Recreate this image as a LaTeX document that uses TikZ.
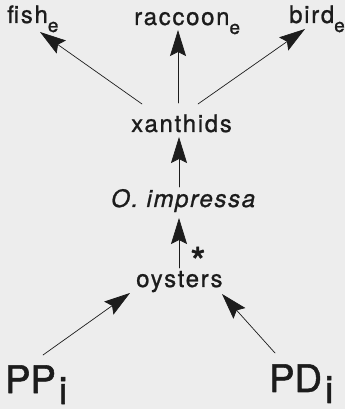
\documentclass[tikz,border=0pt]{standalone}
\usepackage{fontspec}
\setmainfont{TeX Gyre Heros}
\newfontfamily\labfont[LetterSpace=7,FakeBold=1]{TeX Gyre Heros}
\newfontfamily\bigfont[FakeBold=1.4]{TeX Gyre Heros}
\usepackage{tikz}
\usetikzlibrary{arrows.meta}
\definecolor{paper}{RGB}{237,237,237}
\definecolor{ink}{RGB}{28,28,28}
\newcommand{\lowsub}[1]{\raisebox{-9pt}{\fontsize{19}{19}\selectfont #1}}
\newcommand{\lowbig}[1]{\kern3pt\raisebox{-11pt}{#1}}

\begin{document}
\begin{tikzpicture}[x=1pt,y=1pt,line cap=round,line join=round,
  >={Stealth[length=26pt,width=16pt,inset=4pt]},
  lab/.style={anchor=base west,inner sep=0pt,text=ink,font=\labfont\fontsize{24}{24}\selectfont},
  big/.style={anchor=base west,inner sep=0pt,text=ink,font=\bigfont\fontsize{38}{38}\selectfont},
  link/.style={->,draw=ink,line width=0.7pt}]
\fill[paper] (0,0) rectangle (345,409);
\useasboundingbox (0,0) rectangle (345,409);
% top row
\node[lab] (fish) at (7,386) {fish\lowsub{e}};
\node[lab] (raccoon) at (134,384) {raccoon\lowsub{e}};
\node[lab] (bird) at (289,386) {bird\lowsub{e}};
% chain
\node[lab] (xanth) at (131,277) {xanthids};
\node[lab,font=\labfont\itshape\fontsize{24}{24}\selectfont] (impressa) at (111,202) {O. impressa};
\node[lab] (oysters) at (136,122) {oysters};
\node[anchor=north,inner sep=0pt,text=ink,font=\bigfont\fontsize{40}{40}\selectfont] (star) at (198,162)
  {\raisebox{-0.43em}[0.29em][0pt]{*}};
% inputs
\node[big] (pp) at (5,16) {PP\lowbig{i}};
\node[big] (pd) at (269,17) {PD\lowbig{i}};
% arrows
\draw[link] ([xshift=11pt,yshift=28pt]xanth.base west) -- ([xshift=33pt,yshift=-9pt]fish.base west);
\draw[link] ([xshift=47pt,yshift=29pt]xanth.base west) -- ([xshift=44pt,yshift=-5pt]raccoon.base west);
\draw[link] ([xshift=67pt,yshift=28pt]xanth.base west) -- ([xshift=16pt,yshift=-6pt]bird.base west);
\draw[link] ([xshift=68pt,yshift=20pt]impressa.base west) -- ([xshift=48pt,yshift=-5pt]xanth.base west);
\draw[link] ([xshift=43pt,yshift=19pt]oysters.base west) -- ([xshift=68pt,yshift=-11pt]impressa.base west);
\draw[link] ([xshift=38pt,yshift=38pt]pp.base west) -- ([xshift=-6pt,yshift=-6pt]oysters.base west);
\draw[link] ([xshift=6pt,yshift=39pt]pd.base west) -- ([xshift=86pt,yshift=-7pt]oysters.base west);
\end{tikzpicture}
\end{document}
